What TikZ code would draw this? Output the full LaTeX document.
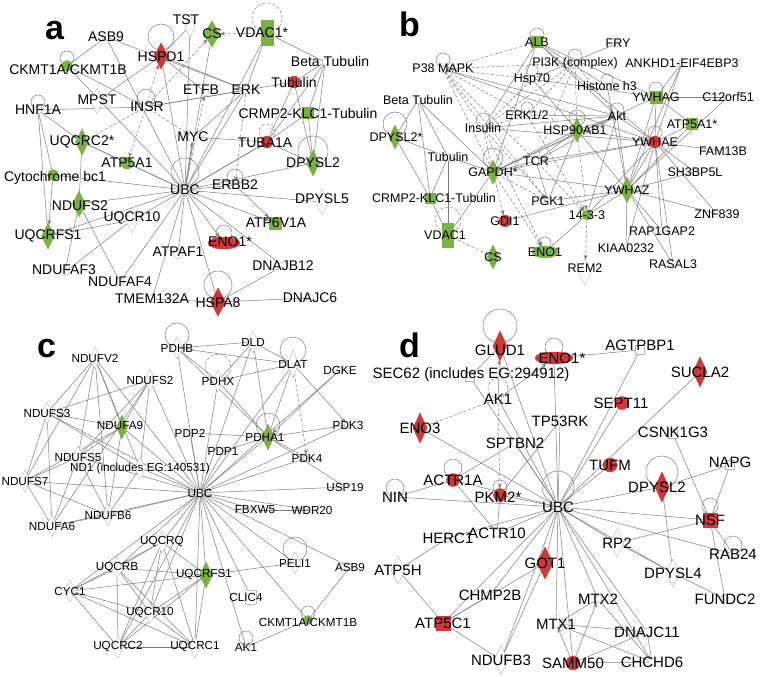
\documentclass[tikz,border=0pt]{standalone}
\usepackage{fontspec}
\setmainfont{Liberation Sans}
\usetikzlibrary{shapes.geometric,arrows.meta}
\definecolor{ggreen}{RGB}{122,178,64}
\definecolor{rred}{RGB}{208,56,56}
\definecolor{linegray}{RGB}{125,125,125}
\definecolor{outl}{RGB}{180,180,180}
\pgfdeclarelayer{bg}\pgfdeclarelayer{fg}\pgfsetlayers{bg,main,fg}
\newcommand\nd[5]{\node[#2] (#1) at (#3,#4) {};\begin{pgfonlayer}{fg}\node[lbl] (#1t) at (#1) {#5};\end{pgfonlayer}}
\newcommand\ndt[7]{\node[#2] (#1) at (#3,#4) {};\begin{pgfonlayer}{fg}\node[lbl] (#1t) at (#5,#6) {#7};\end{pgfonlayer}}
\newcommand\lp[4][]{\begin{pgfonlayer}{bg}\draw[lnk,#1] ([yshift=#3pt]#2.center) circle[radius=#4pt];\end{pgfonlayer}}
\newcommand\E[2][]{\begin{pgfonlayer}{bg}\foreach \p/\q in {#2} \draw[lnk,#1] (\p) -- (\q);\end{pgfonlayer}}
\tikzset{
 lnk/.style={draw=linegray, line width=0.5pt},
 arr/.style={-{Stealth[length=5pt,width=4pt]}},
 dsh/.style={dash pattern=on 3pt off 2pt},
 base/.style={inner sep=0pt, outer sep=0pt, line width=0.4pt},
 dia/.style={base, diamond, minimum width=13pt, minimum height=26pt},
 circ/.style={base, circle, minimum size=13pt},
 sqr/.style={base, rectangle, minimum size=12pt},
 vrect/.style={base, rectangle, minimum width=12pt, minimum height=25pt},
 ell/.style={base, ellipse, minimum width=32pt, minimum height=12pt},
 G/.style={fill=ggreen, draw=ggreen},
 R/.style={fill=rred, draw=rred},
 W/.style={fill=white, draw=outl},
 cd/.style={dia, W, minimum width=11pt, minimum height=22pt},
 lbl/.style={inner sep=0pt, font=\fontsize{14}{14}\selectfont},
 plbl/.style={inner sep=0pt, anchor=base west, font=\fontsize{34}{34}\selectfont\bfseries}
}
\begin{document}
\begin{tikzpicture}[x=1pt,y=-1pt]
\begin{pgfonlayer}{bg}\fill[white] (0,0) rectangle (760,677);\end{pgfonlayer}
\useasboundingbox (0,0) rectangle (760,677);
\node[plbl] (la) at (45,40) {a};
\node[plbl] (lb) at (399,37) {b};
\node[plbl] (lc) at (37,357) {c};
\node[plbl] (ld) at (399,357) {d};
% ---------------- panel a ----------------
\begin{scope}[lbl/.style={inner sep=0pt, font=\fontsize{14}{14}\selectfont}]
\ndt{aTST}{dia,W,minimum width=10pt,minimum height=24pt}{190}{26}{186}{20}{TST}
\ndt{aCS}{dia,G,minimum width=16pt}{212}{34}{212}{34}{CS}
\ndt{aVDAC}{vrect,G}{267}{33}{262}{33}{VDAC1*}
\lp[dsh]{aVDAC}{15}{15}
\nd{aASB9}{circ,W,minimum size=8pt}{106}{37}{ASB9}
\ndt{aHSPD1}{dia,R,minimum width=14pt,minimum height=26pt}{161}{56}{161}{57}{HSPD1}
\lp{aHSPD1}{19}{13}
\ndt{aCKMT}{circ,G,minimum size=11pt}{67}{66}{68}{69}{CKMT1A/CKMT1B}
\lp{aCKMT}{8}{7}
\ndt{aBeta}{circ,W,minimum size=6pt}{325}{62}{330}{61}{Beta Tubulin}
\nd{aTubulin}{circ,R,minimum size=12pt}{294}{82}{Tubulin}
\ndt{aETFB}{circ,W,minimum size=8pt}{205}{92}{201}{90}{ETFB}
\nd{aERK}{circ,W,minimum size=8pt}{246}{90}{ERK}
\ndt{aMPST}{dia,W,minimum width=13pt,minimum height=26pt}{97}{101}{97}{100}{MPST}
\ndt{aINSR}{circ,W,minimum size=8pt}{146}{107}{147}{107}{INSR}
\lp{aINSR}{9}{9}
\nd{aHNF1A}{circ,W,minimum size=8pt}{38}{110}{HNF1A}
\lp{aHNF1A}{8}{7}
\nd{aCRMP2}{sqr,G,minimum size=11pt}{308}{113}{CRMP2-KLC1-Tubulin}
\nd{aMYC}{circ,W,minimum size=10pt}{193}{137}{MYC}
\ndt{aUQCRC2}{dia,G}{82}{142}{82}{142}{UQCRC2*}
\ndt{aTUBA1A}{circ,R,minimum size=12pt}{267}{142}{265}{143}{TUBA1A}
\lp[dsh]{aTUBA1A}{10}{8}
\nd{aDPYSL2}{dia,G}{313}{163}{DPYSL2}
\lp{aDPYSL2}{12}{15}
\nd{aATP5A1}{circ,G,minimum size=12pt}{127}{163}{ATP5A1}
\ndt{aCyto}{circ,G,minimum size=11pt}{53}{175}{55}{178}{Cytochrome bc1}
\nd{aUBC}{circ,W,minimum size=10pt}{185}{190}{UBC}
\lp{aUBC}{18}{14}
\nd{aERBB2}{circ,W,minimum size=8pt}{235}{185}{ERBB2}
\lp{aERBB2}{8}{8}
\ndt{aDPYSL5}{dia,W}{322}{202}{322}{199}{DPYSL5}
\ndt{aNDUFS2}{dia,G}{79}{204}{80}{206}{NDUFS2}
\ndt{aUQCR10}{dia,W}{132}{220}{132}{218}{UQCR10}
\ndt{aATP6V1A}{sqr,G}{275}{223}{276}{223}{ATP6V1A}
\nd{aUQCRFS1}{dia,G}{48}{236}{UQCRFS1}
\ndt{aENO1}{ell,R}{224}{243}{230}{242}{ENO1*}
\lp{aENO1}{10}{8}
\ndt{aATPAF1}{circ,W,minimum size=10pt}{178}{254}{178}{252}{ATPAF1}
\nd{aDNAJB12}{circ,W,minimum size=8pt}{283}{266}{DNAJB12}
\ndt{aNDUFAF3}{circ,W,minimum size=8pt}{65}{272}{64}{270}{NDUFAF3}
\nd{aNDUFAF4}{circ,W,minimum size=8pt}{120}{282}{NDUFAF4}
\nd{aTMEM}{circ,W,minimum size=8pt}{152}{299}{TMEM132A}
\ndt{aHSPA8}{dia,R,minimum width=15pt,minimum height=28pt}{218}{302}{218}{303}{HSPA8}
\lp{aHSPA8}{17}{14}
\nd{aDNAJC6}{circ,W,minimum size=8pt}{310}{298}{DNAJC6}
\E{aTST/aHSPD1,aTST/aUBC,aCS/aUBC,aVDAC/aERK,aVDAC/aBeta,aVDAC/aUBC,aASB9/aCKMT,aASB9/aERK,aASB9/aUBC,aHSPD1/aMPST,aHSPD1/aERK,aHSPD1/aUBC,aCKMT/aINSR,aCKMT/aUBC,aBeta/aTubulin,aBeta/aDPYSL2,aBeta/aTUBA1A,aBeta/aCRMP2,aTubulin/aINSR,aTubulin/aTUBA1A,aTubulin/aDPYSL2,aERK/aUBC,aERK/aMYC,aERK/aINSR,aETFB/aHSPD1,aHNF1A/aINSR,aHNF1A/aCyto,aMYC/aUBC,aMYC/aTUBA1A,aCRMP2/aTUBA1A,aCRMP2/aDPYSL2,aTUBA1A/aDPYSL2,aTUBA1A/aUBC,aUQCRC2/aATP5A1,aUQCRC2/aUBC,aUQCRC2/aNDUFS2,aCyto/aUBC,aATP5A1/aUBC,aNDUFS2/aUBC,aNDUFS2/aNDUFAF3,aNDUFS2/aNDUFAF4,aUQCRFS1/aUBC,aUQCRFS1/aUQCR10,aUQCRFS1/aHNF1A,aUQCR10/aUBC,aUQCR10/aNDUFAF3,aUBC/aDPYSL2,aUBC/aDPYSL5,aUBC/aERBB2,aUBC/aATPAF1,aUBC/aNDUFAF4,aUBC/aTMEM,aUBC/aHSPA8,aUBC/aDNAJB12,aHSPA8/aTMEM,aHSPA8/aDNAJC6,aHSPA8/aDNAJB12}
\E[arr]{aHNF1A/aUQCRC2,aCyto/aUQCRFS1,aUBC/aATP6V1A,aUBC/aENO1,aERBB2/aATP6V1A,aUBC/aMYC,aUBC/aTUBA1A}
\E[arr,dsh]{aINSR/aCS,aVDAC/aCS,aINSR/aHSPD1,aINSR/aMYC,aINSR/aATP5A1,aUBC/aETFB,aERK/aERBB2}
\E[dsh]{aINSR/aUQCRC2}
\end{scope}
% ---------------- panel b ----------------
\begin{scope}[lbl/.style={inner sep=0pt, font=\fontsize{12.5}{13}\selectfont}]
\nd{bALB}{sqr,G,minimum size=11pt}{537}{42}{ALB}
\lp{bALB}{7}{7}
\nd{bFRY}{circ,W,minimum size=7pt}{618}{43}{FRY}
\ndt{bP38}{circ,W,minimum size=7pt}{443}{69}{443}{68}{P38 MAPK}
\lp{bP38}{9}{7}
\nd{bPI3K}{circ,W,minimum size=7pt}{575}{63}{PI3K (complex)}
\lp{bPI3K}{7}{7}
\nd{bANKHD1}{circ,W,minimum size=7pt}{682}{63}{ANKHD1-EIF4EBP3}
\nd{bHsp70}{circ,W,minimum size=7pt}{532}{79}{Hsp70}
\lp{bHsp70}{9}{6}
\nd{bHistone}{circ,W,minimum size=7pt}{607}{86}{Histone h3}
\lp{bHistone}{6}{6}
\nd{bBeta}{circ,W,minimum size=7pt}{418}{100}{Beta Tubulin}
\nd{bYWHAG}{sqr,G,minimum size=12pt}{656}{97}{YWHAG}
\lp{bYWHAG}{8}{7}
\nd{bC12}{circ,W,minimum size=7pt}{728}{97}{C12orf51}
\nd{bERK}{circ,W,minimum size=7pt}{527}{115}{ERK1/2}
\lp{bERK}{7}{6}
\nd{bAkt}{circ,W,minimum size=7pt}{617}{116}{Akt}
\lp{bAkt}{6}{7}
\nd{bIns}{circ,W,minimum size=7pt}{483}{128}{Insulin}
\lp{bIns}{8}{7}
\ndt{bHSP90}{dia,G,minimum width=12pt,minimum height=24pt}{577}{130}{575}{130}{HSP90AB1}
\lp{bHSP90}{12}{8}
\nd{bATP5A1}{sqr,G,minimum size=11pt}{692}{124}{ATP5A1*}
\ndt{bDPYSL2}{dia,G,minimum width=12pt,minimum height=24pt}{395}{137}{396}{137}{DPYSL2*}
\lp{bDPYSL2}{13}{12}
\nd{bYWHAE}{circ,R,minimum size=12pt}{655}{142}{YWHAE}
\lp{bYWHAE}{9}{7}
\nd{bFAM}{circ,W,minimum size=7pt}{723}{151}{FAM13B}
\nd{bTub}{circ,W,minimum size=7pt}{448}{157}{Tubulin}
\nd{bTCR}{circ,W,minimum size=7pt}{536}{161}{TCR}
\nd{bGAPDH}{dia,G,minimum width=12pt,minimum height=24pt}{493}{172}{GAPDH*}
\lp{bGAPDH}{14}{10}
\nd{bSH3}{circ,W,minimum size=7pt}{695}{172}{SH3BP5L}
\nd{bYWHAZ}{dia,G}{627}{190}{YWHAZ}
\ndt{bCRMP2}{sqr,G,minimum size=10pt}{430}{198}{434}{198}{CRMP2-KLC1-Tubulin}
\nd{bPGK1}{circ,W,minimum size=7pt}{548}{201}{PGK1}
\nd{b1433}{circ,G,minimum size=10pt}{587}{215}{14-3-3}
\nd{bZNF}{circ,W,minimum size=7pt}{717}{214}{ZNF839}
\nd{bGDI1}{circ,R,minimum size=12pt}{505}{221}{GDI1}
\ndt{bVDAC1}{vrect,G,minimum width=11pt,minimum height=24pt}{448}{235}{445}{235}{VDAC1}
\lp[dsh]{bVDAC1}{15}{13}
\nd{bRAP}{circ,W,minimum size=7pt}{662}{231}{RAP1GAP2}
\nd{bKIAA}{circ,W,minimum size=7pt}{626}{248}{KIAA0232}
\nd{bENO1}{ell,G,minimum width=26pt,minimum height=12pt}{545}{252}{ENO1}
\lp{bENO1}{9}{6}
\nd{bCS}{dia,G,minimum width=12pt,minimum height=24pt}{493}{257}{CS}
\ndt{bREM2}{dia,W}{585}{272}{585}{268}{REM2}
\nd{bRASAL3}{circ,W,minimum size=7pt}{673}{264}{RASAL3}
\E[dsh]{bP38/bPI3K,bP38/bHsp70,bP38/bERK,bP38/bIns,bP38/bTCR,bP38/bGAPDH,bALB/bP38,bIns/bPI3K,bERK/bPI3K,bTCR/bPI3K,bHsp70/bIns,bIns/bERK,bIns/bGAPDH,bPI3K/bHSP90,bVDAC1/bCS,bPI3K/bAkt,bP38/bPGK1}
\E[dsh,arr]{bIns/bENO1,bIns/bPGK1,bGAPDH/bPGK1,bGAPDH/bGDI1,bGAPDH/bENO1,bTCR/b1433,b1433/bREM2,bHSP90/b1433,bERK/b1433}
\E{bALB/bAkt,bALB/bYWHAE,bALB/bHistone,bALB/bGAPDH,bALB/bIns,bALB/bYWHAG,bFRY/bHsp70,bANKHD1/bYWHAG,bANKHD1/bYWHAE,bANKHD1/bYWHAZ,bP38/bAkt,bP38/bYWHAE,bHsp70/bYWHAG,bHsp70/bHSP90,bHistone/bYWHAZ,bYWHAG/bC12,bYWHAG/bATP5A1,bYWHAG/bYWHAE,bYWHAG/bYWHAZ,bYWHAG/bGAPDH,bBeta/bDPYSL2,bBeta/bTub,bBeta/bCRMP2,bBeta/bGAPDH,bERK/bAkt,bAkt/bYWHAE,bAkt/bYWHAZ,bAkt/bHSP90,bAkt/b1433,bAkt/bGAPDH,bAkt/bIns,bAkt/bTCR,bHSP90/bYWHAE,bHSP90/bYWHAZ,bHSP90/bGAPDH,bHSP90/bTCR,bHSP90/bPGK1,bATP5A1/bYWHAE,bATP5A1/bYWHAZ,bC12/bYWHAZ,bDPYSL2/bTub,bDPYSL2/bCRMP2,bYWHAE/bFAM,bYWHAE/bSH3,bYWHAE/bZNF,bYWHAE/bRAP,bYWHAE/bRASAL3,bYWHAE/bKIAA,bYWHAE/bYWHAZ,bYWHAE/b1433,bYWHAE/bGAPDH,bYWHAE/bTCR,bYWHAE/bIns,bTub/bGAPDH,bTub/bCRMP2,bTCR/bGAPDH,bTCR/bPGK1,bGAPDH/bYWHAZ,bGAPDH/bVDAC1,bYWHAZ/bPGK1,bYWHAZ/b1433,bYWHAZ/bGDI1,bYWHAZ/bSH3,bYWHAZ/bZNF,bYWHAZ/bRAP,bYWHAZ/bKIAA,bYWHAZ/bRASAL3,b1433/bENO1,bVDAC1/bCRMP2}
\E[-{Bar[width=6pt]}]{bTub/bVDAC1}
\end{scope}
% ---------------- panel c ----------------
\begin{scope}[lbl/.style={inner sep=0pt, font=\fontsize{11.7}{12}\selectfont}]
\nd{cNDUFV2}{cd}{95}{358}{NDUFV2}
\nd{cPDHB}{cd}{177}{348}{PDHB}
\lp{cPDHB}{13}{12}
\nd{cDLD}{cd}{253}{342}{DLD}
\nd{cDLAT}{cd,minimum height=28pt}{293}{364}{DLAT}
\lp{cDLAT}{14}{13}
\nd{cDGKE}{circ,W,minimum size=7pt}{340}{370}{DGKE}
\nd{cNDUFS2}{cd}{150}{380}{NDUFS2}
\nd{cPDHX}{cd}{218}{381}{PDHX}
\lp[dsh]{cPDHX}{14}{13}
\nd{cNDUFS3}{cd}{47}{413}{NDUFS3}
\ndt{cNDUFA9}{dia,G,minimum width=11pt,minimum height=24pt}{122}{427}{120}{425}{NDUFA9}
\nd{cPDP2}{circ,W,minimum size=7pt}{190}{433}{PDP2}
\ndt{cPDHA1}{dia,G,minimum width=12pt,minimum height=26pt}{268}{437}{265}{437}{PDHA1}
\lp{cPDHA1}{12}{12}
\nd{cPDK3}{circ,W,minimum size=7pt}{348}{425}{PDK3}
\nd{cPDP1}{circ,W,minimum size=7pt}{223}{451}{PDP1}
\nd{cPDK4}{circ,W,minimum size=7pt}{307}{458}{PDK4}
\nd{cNDUFS5}{cd}{78}{457}{NDUFS5}
\nd{cND1}{cd}{140}{468}{ND1 (includes EG:140531)}
\nd{cNDUFS7}{cd}{25}{481}{NDUFS7}
\nd{cUBC}{circ,W,minimum size=8pt}{200}{493}{UBC}
\nd{cUSP19}{circ,W,minimum size=7pt}{345}{487}{USP19}
\nd{cFBXW5}{circ,W,minimum size=7pt}{255}{510}{FBXW5}
\nd{cWDR20}{circ,W,minimum size=7pt}{312}{510}{WDR20}
\nd{cNDUFB6}{cd}{108}{515}{NDUFB6}
\nd{cNDUFA6}{cd}{52}{526}{NDUFA6}
\nd{cUQCRQ}{cd}{162}{542}{UQCRQ}
\nd{cPELI1}{cd}{295}{563}{PELI1}
\lp{cPELI1}{14}{12}
\nd{cASB9}{circ,W,minimum size=7pt}{350}{567}{ASB9}
\nd{cUQCRB}{cd}{117}{568}{UQCRB}
\ndt{cUQCRFS1}{dia,G}{206}{575}{204}{575}{UQCRFS1}
\nd{cCYC1}{cd}{70}{591}{CYC1}
\ndt{cCLIC4}{base,rectangle,fill=white,draw=outl,densely dotted,minimum width=11pt,minimum height=14pt}{251}{597}{246}{597}{CLIC4}
\nd{cUQCR10}{cd}{150}{613}{UQCR10}
\ndt{cCKMT}{circ,G,minimum size=9pt}{308}{620}{308}{622}{CKMT1A/CKMT1B}
\lp{cCKMT}{7}{7}
\nd{cUQCRC2}{cd}{118}{647}{UQCRC2}
\nd{cUQCRC1}{cd}{195}{647}{UQCRC1}
\nd{cAK1}{circ,W,minimum size=7pt}{246}{647}{AK1}
\lp{cAK1}{9}{7}
\E{cUBC/cNDUFV2,cUBC/cNDUFS2,cUBC/cNDUFS3,cUBC/cNDUFA9,cUBC/cNDUFS5,cUBC/cND1,cUBC/cNDUFS7,cUBC/cNDUFB6,cUBC/cNDUFA6,cUBC/cPDHB,cUBC/cDLD,cUBC/cPDHX,cUBC/cDLAT,cUBC/cPDP2,cUBC/cPDP1,cUBC/cPDHA1,cUBC/cPDK3,cUBC/cPDK4,cUBC/cDGKE,cUBC/cUSP19,cUBC/cFBXW5,cUBC/cWDR20,cUBC/cUQCRQ,cUBC/cUQCRB,cUBC/cUQCRFS1,cUBC/cUQCR10,cUBC/cUQCRC2,cUBC/cUQCRC1,cUBC/cCYC1,cUBC/cCLIC4,cUBC/cAK1,cUBC/cCKMT,cUBC/cASB9,cUBC/cPELI1}
\E{cNDUFV2/cNDUFS3,cNDUFV2/cNDUFA9,cNDUFV2/cNDUFS5,cNDUFV2/cND1,cNDUFV2/cNDUFS7,cNDUFV2/cNDUFB6,cNDUFS2/cNDUFS3,cNDUFS2/cNDUFA9,cNDUFS2/cNDUFS5,cNDUFS2/cND1,cNDUFS2/cNDUFA6,cNDUFS3/cNDUFA9,cNDUFS3/cND1,cNDUFS3/cNDUFS7,cNDUFS3/cNDUFA6,cNDUFA9/cNDUFS5,cNDUFA9/cNDUFS7,cNDUFA9/cNDUFB6,cNDUFS5/cNDUFS7,cNDUFS5/cNDUFA6,cNDUFS7/cNDUFA6,cNDUFS7/cNDUFB6,cNDUFB6/cNDUFA6,cND1/cNDUFB6,cNDUFS5/cNDUFB6}
\E{cPDHB/cDLD,cPDHB/cDLAT,cPDHB/cPDHA1,cPDHB/cPDHX,cDLD/cPDHX,cDLD/cDLAT,cDLD/cPDHA1,cDLAT/cPDHX,cDLAT/cPDHA1,cPDHA1/cPDK3,cPDHA1/cPDK4,cPDHA1/cPDP2,cPDHA1/cPDP1,cPDHX/cPDHA1,cPDHA1/cUSP19}
\E[arr]{cDLAT/cPDK3,cDGKE/cPDHA1}
\E[arr,dsh]{cDLAT/cPDK4}
\E{cUQCRQ/cUQCRB,cUQCRQ/cCYC1,cUQCRQ/cUQCRFS1,cUQCRQ/cUQCR10,cUQCRQ/cUQCRC2,cUQCRQ/cUQCRC1,cUQCRB/cUQCRFS1,cUQCRB/cCYC1,cUQCRB/cUQCRC2,cUQCRB/cUQCRC1,cUQCRB/cUQCR10,cCYC1/cUQCRFS1,cCYC1/cUQCRC2,cCYC1/cUQCRC1,cCYC1/cUQCR10,cUQCR10/cUQCRFS1,cUQCR10/cUQCRC2,cUQCR10/cUQCRC1,cUQCRC2/cUQCRC1,cUQCRFS1/cUQCRC1,cUQCRFS1/cUQCRC2,cUQCRFS1/cPELI1,cASB9/cCKMT,cCKMT/cAK1,cFBXW5/cWDR20}
\end{scope}
% ---------------- panel d ----------------
\begin{scope}[lbl/.style={inner sep=0pt, font=\fontsize{15}{15}\selectfont}]
\ndt{dGLUD1}{dia,R,minimum width=14pt,minimum height=30pt}{500}{346}{500}{350}{GLUD1}
\lp{dGLUD1}{20}{17}
\ndt{dENO1}{ell,R,minimum width=38pt,minimum height=12pt}{554}{358}{562}{358}{ENO1*}
\lp{dENO1}{11}{9}
\ndt{dAGT}{sqr,W,minimum size=9pt}{640}{350}{640}{345}{AGTPBP1}
\ndt{dSEC62}{sqr,W,minimum size=9pt}{470}{377}{471}{375}{SEC62 (includes EG:294912)}
\nd{dSUCLA2}{dia,R,minimum width=14pt,minimum height=30pt}{700}{372}{SUCLA2}
\nd{dAK1}{circ,W,minimum size=8pt}{498}{399}{AK1}
\lp[dsh]{dAK1}{11}{10}
\ndt{dSEPT11}{circ,R,minimum size=13pt}{622}{403}{621}{403}{SEPT11}
\nd{dTP53RK}{circ,W,minimum size=8pt}{560}{421}{TP53RK}
\nd{dENO3}{dia,R,minimum width=14pt,minimum height=30pt}{420}{428}{ENO3}
\ndt{dCSNK}{sqr,W,minimum size=9pt}{673}{434}{673}{432}{CSNK1G3}
\nd{dSPTBN2}{circ,W,minimum size=8pt}{515}{443}{SPTBN2}
\nd{dTUFM}{circ,R,minimum size=14pt}{610}{465}{TUFM}
\ndt{dNAPG}{sqr,W,minimum size=9pt}{730}{465}{730}{462}{NAPG}
\nd{dACTR1A}{circ,R,minimum size=13pt}{453}{480}{ACTR1A}
\lp{dACTR1A}{12}{9}
\ndt{dDPYSL2}{dia,R,minimum width=14pt,minimum height=30pt}{662}{487}{657}{487}{DPYSL2}
\lp{dDPYSL2}{15}{16}
\nd{dNIN}{circ,W,minimum size=8pt}{395}{497}{NIN}
\lp{dNIN}{9}{9}
\ndt{dPKM2}{circ,R,minimum size=13pt}{500}{495}{498}{497}{PKM2*}
\lp{dPKM2}{8}{7}
\nd{dUBC}{circ,W,minimum size=10pt}{558}{507}{UBC}
\lp{dUBC}{20}{16}
\nd{dNSF}{sqr,R,minimum size=14pt}{710}{520}{NSF}
\lp{dNSF}{14}{8}
\nd{dHERC1}{circ,W,minimum size=8pt}{448}{538}{HERC1}
\nd{dACTR10}{circ,W,minimum size=8pt}{497}{533}{ACTR10}
\nd{dRP2}{dia,W,minimum width=14pt,minimum height=28pt}{617}{543}{RP2}
\nd{dRAB24}{circ,W,minimum size=8pt}{733}{554}{RAB24}
\lp{dRAB24}{9}{9}
\nd{dATP5H}{dia,W,minimum width=14pt,minimum height=28pt}{398}{570}{ATP5H}
\nd{dGOT1}{dia,R,minimum width=16pt,minimum height=32pt}{545}{563}{GOT1}
\nd{dDPYSL4}{dia,W,minimum width=14pt,minimum height=28pt}{673}{573}{DPYSL4}
\nd{dCHMP2B}{circ,W,minimum size=8pt}{490}{595}{CHMP2B}
\nd{dFUNDC2}{circ,W,minimum size=8pt}{725}{599}{FUNDC2}
\nd{dMTX2}{circ,W,minimum size=8pt}{598}{599}{MTX2}
\nd{dATP5C1}{sqr,R,minimum size=14pt}{443}{623}{ATP5C1}
\nd{dMTX1}{circ,W,minimum size=8pt}{556}{624}{MTX1}
\nd{dDNAJC11}{circ,W,minimum size=8pt}{647}{632}{DNAJC11}
\nd{dNDUFB3}{dia,W,minimum width=14pt,minimum height=30pt}{501}{660}{NDUFB3}
\nd{dSAMM50}{circ,R,minimum size=14pt}{573}{663}{SAMM50}
\nd{dCHCHD6}{circ,W,minimum size=8pt}{652}{662}{CHCHD6}
\E{dUBC/dGLUD1,dUBC/dENO1,dUBC/dAK1,dUBC/dSEC62,dUBC/dTP53RK,dUBC/dSPTBN2,dUBC/dENO3,dUBC/dACTR1A,dUBC/dNIN,dUBC/dPKM2,dUBC/dHERC1,dUBC/dACTR10,dUBC/dSEPT11,dUBC/dTUFM,dUBC/dDPYSL2,dUBC/dNSF,dUBC/dRAB24,dUBC/dRP2,dUBC/dDPYSL4,dUBC/dGOT1,dUBC/dATP5C1,dUBC/dCHMP2B,dUBC/dMTX1,dUBC/dMTX2,dUBC/dDNAJC11,dUBC/dCHCHD6,dUBC/dSAMM50,dUBC/dNDUFB3,dUBC/dSUCLA2,dUBC/dAGT}
\E{dGLUD1/dSEC62,dENO1/dAGT,dTP53RK/dPKM2,dACTR1A/dNIN,dACTR1A/dACTR10,dACTR1A/dSPTBN2,dPKM2/dACTR10,dATP5H/dATP5C1,dATP5H/dHERC1,dATP5C1/dCHMP2B,dATP5C1/dNDUFB3,dATP5C1/dGOT1,dGOT1/dNDUFB3,dDPYSL2/dNAPG,dDPYSL2/dDPYSL4,dCSNK/dNSF,dNAPG/dNSF,dNSF/dRP2,dNSF/dRAB24,dNSF/dFUNDC2,dRP2/dDPYSL4,dDPYSL4/dFUNDC2,dMTX1/dMTX2,dSAMM50/dCHCHD6,dSAMM50/dDNAJC11,dMTX1/dDNAJC11,dMTX1/dCHCHD6,dMTX2/dCHCHD6,dDNAJC11/dCHCHD6}
\E[arr]{dAK1/dGLUD1,dAK1/dENO1,dSAMM50/dMTX1,dSAMM50/dMTX2}
\E[dsh]{dAK1/dENO3}
\E[dsh,arr]{dAK1/dPKM2}
\end{scope}
\end{tikzpicture}
\end{document}
